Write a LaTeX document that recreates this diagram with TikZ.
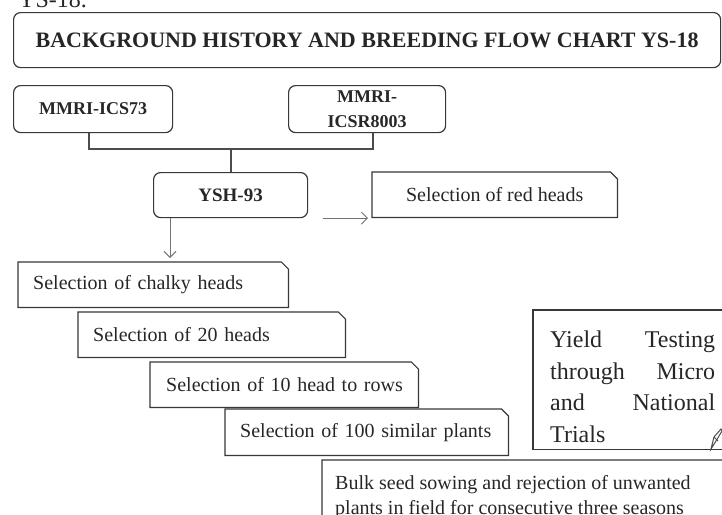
\documentclass[tikz,border=0pt]{standalone}
\usepackage{fontspec}
\setmainfont{Liberation Serif}
\usetikzlibrary{arrows.meta}
\newcommand\snipframe[1]{%
  \draw[frame] (#1.south west) -- (#1.north west) -- ([xshift=-7pt]#1.north east)
    -- ([yshift=-7pt]#1.north east) -- (#1.south east) -- cycle;}
\begin{document}
\begin{tikzpicture}[x=1pt,y=-1pt,
  frame/.style={draw=black!78,line width=1.2pt},
  txt/.style={inner sep=0pt,text=black!85},
  rbox/.style={frame,txt,rounded corners=7pt,align=center,
    font=\bfseries\fontsize{18}{25}\selectfont},
  sbox/.style={txt,anchor=north west,minimum height=45pt,align=left,
    font=\fontsize{20}{25}\selectfont},
  conn/.style={draw=black!70,line width=1.4pt},
  arr/.style={draw=black!55,line width=0.9pt,-{Straight Barb[length=6pt,width=12pt]}}
]
\useasboundingbox (0,0) rectangle (722,514);

\node[txt,anchor=base west,font=\fontsize{24}{28}\selectfont] (ys) at (18,8) {YS-18.};

% title
\node[rbox,anchor=north west,minimum width=707pt,minimum height=55pt,
  font=\bfseries\fontsize{22}{26}\selectfont] (title) at (13,12)
  {BACKGROUND HISTORY AND BREEDING FLOW CHART YS-18};

% parents
\node[rbox,anchor=north west,minimum width=159pt,minimum height=47pt] (ics) at (13,85) {MMRI-ICS73};
\node[rbox,anchor=north west,minimum width=157pt,minimum height=47pt] (icsr) at (288,85) {MMRI-\\ICSR8003};

% cross
\node[rbox,anchor=north west,minimum width=154pt,minimum height=45pt,
  font=\bfseries\fontsize{19}{23}\selectfont] (ysh) at (153,172) {YSH-93};

\coordinate (j) at (231,149);
\draw[conn] ([xshift=-4pt]ics.south) |- (j) -| ([xshift=6pt]icsr.south);
\draw[conn] (j) -- (j |- ysh.north);

% red heads
\node[txt,anchor=north west,minimum width=245pt,minimum height=45pt,
  font=\fontsize{20}{25}\selectfont] (red) at (372,172) {Selection of red heads};
\snipframe{red}

% selection chain
\node[sbox,minimum width=270pt,text width=240pt] (chalky) at (18,262) {\mbox{Selection of chalky heads}};
\snipframe{chalky}
\node[sbox,minimum width=267pt,text width=237pt] (h20) at (78,312) {\mbox{Selection of 20 heads}};
\snipframe{h20}
\node[sbox,minimum width=268pt,text width=236pt] (h10) at (150,362) {\mbox{Selection of 10 head to rows}};
\snipframe{h10}
\node[sbox,minimum width=283pt,text width=253pt,minimum height=46pt] (p100) at (225,409) {\mbox{Selection of 100 similar plants}};
\snipframe{p100}

% bulk
\node[txt,anchor=north west,minimum width=410pt,minimum height=75pt] (bulk) at (322,460) {};
\draw[frame] (bulk.south west) -- (bulk.north west) -- ([xshift=-5pt]bulk.north east)
  to[out=0,in=90] ([yshift=-5pt]bulk.north east) -- (bulk.south east);
\node[txt,anchor=north west,align=left,font=\fontsize{20}{25}\selectfont] (bulktxt) at (335,475)
  {Bulk seed sowing and rejection of unwanted\\plants in field for consecutive three seasons};

% yield
\node[txt,anchor=north west,minimum width=192pt,minimum height=139pt] (yield) at (533,310) {};
\draw[frame] (yield.south east) -- (yield.south west) -- (yield.north west) -- (yield.north east) -- (yield.south east);
\node[txt,anchor=north west,text width=165pt,align=left,font=\fontsize{24}{31.5}\selectfont] (yieldtxt) at (550,331)
  {Yield\hfill Testing\\through\hfill Micro\\and\hfill National\\Trials};
\draw[draw=black!70,line width=1pt,fill=white] (711,449) -- (714,437) -- (721,429) -- (722,431) -- (716,441) -- cycle;
\draw[draw=black!70,line width=0.8pt] (714,437) -- (718,441);

% arrows
\coordinate (a1) at ([xshift=17pt]ysh.south west);
\draw[arr,shorten >=4pt] (a1) -- (a1 |- chalky.north);
\coordinate (a2) at ([xshift=15pt]ysh.south east);
\coordinate (a3) at ([xshift=-4pt]red.south west);
\draw[arr] (a2) -- (a3 |- a2);
\end{tikzpicture}
\end{document}
